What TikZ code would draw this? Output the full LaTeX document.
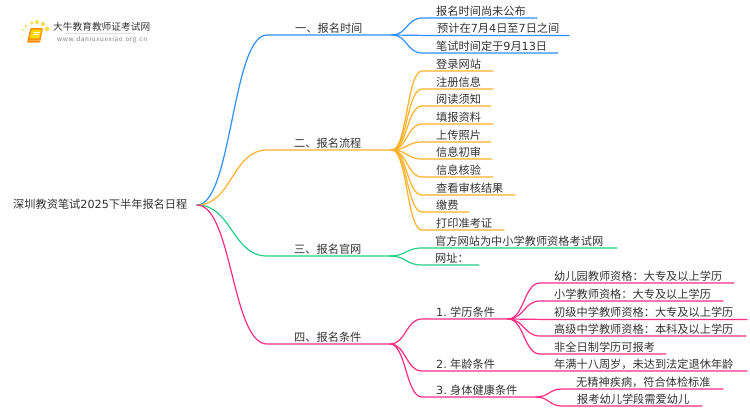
\documentclass[tikz,border=0pt]{standalone}
\usepackage{fontspec}
\setmainfont{Noto Sans CJK SC}
\newfontfamily\dgt{DejaVu Sans}
\newcommand{\dg}[1]{{\dgt #1}}
\definecolor{cblue}{HTML}{2E90FF}
\definecolor{corange}{HTML}{FFB128}
\definecolor{cgreen}{HTML}{26CF88}
\definecolor{cpink}{HTML}{FF2D84}
\definecolor{ctext}{HTML}{333333}
\tikzset{
  x=1pt,y=-1pt,
  lbl/.style={anchor=base west,inner sep=0pt,text=ctext,font=\fontsize{11.2pt}{12pt}\selectfont},
  wire/.style={line width=1.2pt,line cap=round},
}
% name, parent, colour, text x, line y, curve end x, line end x, text
\newcommand{\mmitem}[8]{%
  \coordinate (#1-s) at (#6,#5);
  \coordinate (#1-e) at (#7,#5);
  \node[lbl] (#1) at (#4,#5-3) {#8};
  \draw[wire,#3] (#2) .. controls ($(#2)!0.5!(#2 -| #1-s)$) and ($(#1-s)!0.5!(#2 |- #1-s)$) .. (#1-s) -- (#1-e);
}
\usetikzlibrary{calc}
\begin{document}
\begin{tikzpicture}
\useasboundingbox (0,0) rectangle (750,410);
\fill[white] (0,0) rectangle (750,410);
% logo
\foreach \px/\py/\pr/\po in {47/29/2.3/0.75,43/24/2.1/0.75,37/22/2/0.75,32/23/1.9/0.7,26/26/1.7/0.6,23/30/1.5/0.45,22/36/1.3/0.3,24/42/1.1/0.2}
  \fill[yellow!70!orange,opacity=\po] (\px,\py) circle (\pr);
\fill[orange!90!yellow,rounded corners=1pt] (30.5,28) -- (43,28) -- (40,42.5) -- (27,42.5) -- cycle;
\fill[yellow!75!orange,rounded corners=0.8pt] (31.5,29.5) -- (41.5,29.5) -- (39.5,38.5) -- (29.5,38.5) -- cycle;
\draw[white,line width=0.5pt] (33.5,32) -- (39.5,32) (33,34.5) -- (39,34.5);
\draw[orange!70!white,line width=0.7pt] (28.5,40.5) -- (39.5,40.5);
\draw[black!12,line width=0.6pt] (65,33.5) -- (135,33.5);
\node[anchor=base west,inner sep=0pt,text=black!80,font=\fontsize{9.7pt}{10pt}\selectfont] (logoa) at (53,30.5) {大牛教育教师证考试网};
\node[anchor=base west,inner sep=0pt,text=black!50,font=\fontsize{6.4pt}{7pt}\selectfont,xscale=1] (logob) at (57,41.3) {\addfontfeature{LetterSpace=9}www.daniuxuexiao.org.cn};
% root
\node[lbl] (root) at (13,208.5) {深圳教资笔试\dg{2025}下半年报名日程};
\coordinate (r) at (197,205);
% level 1
\mmitem{a}{r}{cblue}{295}{35}{267}{392}{一、报名时间}
\mmitem{b}{r}{corange}{294}{150}{267}{392}{二、报名流程}
\mmitem{c}{r}{cgreen}{294}{256}{267}{390}{三、报名官网}
\mmitem{d}{r}{cpink}{294}{344}{267}{390}{四、报名条件}
\coordinate (ap) at (392,35);
\coordinate (bp) at (392,150);
\coordinate (cp) at (390,256);
\coordinate (dp) at (390,344);
% branch 1
\mmitem{a1}{ap}{cblue}{436}{18}{422}{537}{报名时间尚未公布}
\mmitem{a2}{ap}{cblue}{437}{35.4}{422}{569}{预计在\dg{7}月\dg{4}日至\dg{7}日之间}
\mmitem{a3}{ap}{cblue}{436}{53}{422}{558}{笔试时间定于\dg{9}月\dg{13}日}
% branch 2
\mmitem{b1}{bp}{corange}{436}{71}{422}{493}{登录网站}
\mmitem{b2}{bp}{corange}{436}{89}{422}{493}{注册信息}
\mmitem{b3}{bp}{corange}{436}{106}{422}{491}{阅读须知}
\mmitem{b4}{bp}{corange}{436}{124}{422}{493}{填报资料}
\mmitem{b5}{bp}{corange}{436}{142}{422}{491}{上传照片}
\mmitem{b6}{bp}{corange}{436}{159}{422}{492}{信息初审}
\mmitem{b7}{bp}{corange}{436}{177}{422}{493}{信息核验}
\mmitem{b8}{bp}{corange}{436}{195}{422}{515}{查看审核结果}
\mmitem{b9}{bp}{corange}{436}{212}{422}{469}{缴费}
\mmitem{b10}{bp}{corange}{436}{230}{422}{504}{打印准考证}
% branch 3
\mmitem{c1}{cp}{cgreen}{435}{248}{422}{617}{官方网站为中小学教师资格考试网}
\mmitem{c2}{cp}{cgreen}{435}{265}{422}{479}{网址：}
% branch 4
\mmitem{d1}{dp}{cpink}{436}{319}{422}{508}{\dg{1.} 学历条件}
\mmitem{d2}{dp}{cpink}{436}{371}{422}{747}{\dg{2.} 年龄条件}
\mmitem{d3}{dp}{cpink}{436}{397}{422}{536}{\dg{3.} 身体健康条件}
\coordinate (d1p) at (508,319);
\coordinate (d3p) at (536,397);
\mmitem{e1}{d1p}{cpink}{554}{283}{540}{734}{幼儿园教师资格：大专及以上学历}
\mmitem{e2}{d1p}{cpink}{554}{301}{540}{723}{小学教师资格：大专及以上学历}
\mmitem{e3}{d1p}{cpink}{554}{319.4}{540}{747}{初级中学教师资格：大专及以上学历}
\mmitem{e4}{d1p}{cpink}{554}{336}{540}{746}{高级中学教师资格：本科及以上学历}
\mmitem{e5}{d1p}{cpink}{554}{354}{540}{666}{非全日制学历可报考}
\node[lbl] (f) at (554,368) {年满十八周岁，未达到法定退休年龄};
\mmitem{g1}{d3p}{cpink}{576}{389}{562}{723}{无精神疾病，符合体检标准}
\mmitem{g2}{d3p}{cpink}{577}{406}{562}{702}{报考幼儿学段需爱幼儿}
\end{tikzpicture}
\end{document}
